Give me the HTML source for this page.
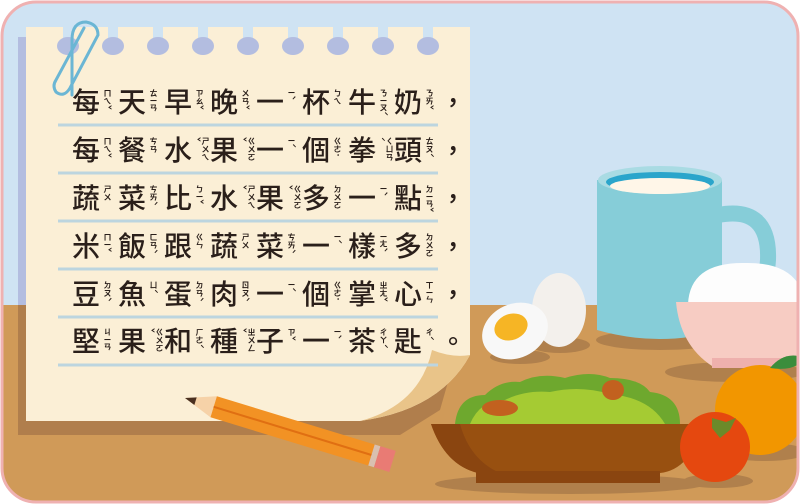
<!DOCTYPE html>
<html><head><meta charset="utf-8">
<style>
html,body{margin:0;padding:0;width:800px;height:504px;overflow:hidden;background:#fff}
#wrap{position:relative;width:800px;height:504px}
svg{position:absolute;left:0;top:0}
.line{position:absolute;left:72px;height:34px;display:flex;align-items:center;font-family:"Liberation Sans","Noto Sans CJK TC",sans-serif;color:#2a1f1a}
.u{width:46px;display:flex;align-items:center;height:34px}
.c{font-size:28px;width:31px;line-height:34px;font-weight:500}
.z{writing-mode:vertical-rl;font-size:8px;line-height:9px;height:28px;font-family:"Noto Sans CJK TC",sans-serif;color:#2a1f1a;font-weight:bold}
.p{font-size:26px}
</style></head><body>
<div id="wrap">
<svg width="800" height="504" viewBox="0 0 800 504">
  <defs><clipPath id="fr"><rect x="2" y="2" width="796" height="500" rx="34"/></clipPath></defs>
  <g clip-path="url(#fr)">
    <rect x="0" y="0" width="800" height="504" fill="#cfe3f3"/>
    <rect x="0" y="305" width="800" height="200" fill="#d09a58"/>
    <g>
      <ellipse cx="660" cy="340" rx="64" ry="10" fill="#b0804c"/>
      <path d="M718 215 q52 -10 50 45 q-2 40 -50 45" fill="none" stroke="#86cdd8" stroke-width="16"/>
      <path d="M597 180 L722 180 L722 330 Q660 348 597 330 Z" fill="#86cdd8"/>
      <ellipse cx="660" cy="180" rx="62" ry="14" fill="#a9dbe3"/>
      <ellipse cx="660" cy="182" rx="54" ry="10" fill="#2aa5cb"/>
      <ellipse cx="660" cy="186" rx="50" ry="8" fill="#fff6e8"/>
    </g>
    <g>
      <ellipse cx="735" cy="372" rx="70" ry="10" fill="#b0804c"/>
      <path d="M688 304 Q690 262 745 263 Q800 262 805 304 Z" fill="#fdfdfd"/>
      <path d="M676 302 L805 302 L805 358 L712 366 Q680 345 676 302 Z" fill="#f7ccc3"/>
      <rect x="712" y="358" width="70" height="10" fill="#eeb0ad"/>
    </g>
    <g>
      <ellipse cx="560" cy="345" rx="30" ry="8" fill="#b0804c"/>
      <ellipse cx="559" cy="310" rx="27" ry="37" fill="#f3f0ec"/>
      <ellipse cx="520" cy="357" rx="30" ry="7" fill="#b0804c"/>
      <ellipse cx="515" cy="331" rx="34" ry="27" transform="rotate(-25 515 331)" fill="#f8f8f8"/>
      <ellipse cx="511" cy="327" rx="17" ry="13" transform="rotate(-20 511 327)" fill="#f6b525"/>
    </g>
    <g>
      <ellipse cx="765" cy="452" rx="42" ry="9" fill="#b0804c"/>
      <circle cx="760" cy="410" r="45" fill="#f29600"/>
      <path d="M770 368 q15 -18 35 -10 q-10 14 -35 10z" fill="#3a8d3c"/>
    </g>
    <g>
      <ellipse cx="570" cy="484" rx="135" ry="10" fill="#b0804c"/>
      <path d="M455 424 Q458 395 485 395 Q500 380 520 382 Q540 372 565 378 Q590 370 610 378 Q640 378 650 392 Q680 395 680 424 Z" fill="#6ea82e"/>
      <path d="M470 424 Q480 400 505 400 Q525 390 550 392 Q580 385 610 394 Q650 398 665 424 Z" fill="#a5cb33"/>
      <ellipse cx="500" cy="408" rx="18" ry="8" fill="#c2611f"/>
      <ellipse cx="613" cy="390" rx="11" ry="10" fill="#c2611f"/>
      <path d="M431 424 L705 424 Q690 470 660 473 L478 473 Q445 465 431 424 Z" fill="#985010"/>
      <path d="M431 424 L460 424 Q470 460 500 473 L478 473 Q445 465 431 424 Z" fill="#8a4510"/>
      <rect x="476" y="471" width="184" height="12" fill="#8a4510"/>
    </g>
    <g>
      <ellipse cx="718" cy="481" rx="35" ry="7" fill="#b0804c"/>
      <circle cx="715" cy="447" r="35" fill="#e5480f"/>
      <path d="M712 418 l14 4 l10 -4 l-6 12 l-10 8 l-8 -10 z" fill="#6b8a2a"/>
    </g>
    <g>
      <rect x="18" y="37" width="20" height="268" fill="#b3bde0"/>
      <path d="M18 305 L18 435 L400 435 L440 410 L470 305 Z" fill="#b07e4c"/>
      <path d="M26 27 L470 27 L470 355 Q440 410 360 421 L26 421 Z" fill="#fbefd6"/>
      <path d="M470 355 Q440 410 360 421 Q420 405 432 350 Q452 358 470 355 Z" fill="#e9c489"/>
      <g id="holes"></g>
      <g id="rules"></g>
      <path d="M72 95 L72 40 Q72 22 86 22 Q98 24 98 35 L70 88 Q64 98 56 92 Q52 86 56 80 L84 28" fill="none" stroke="#6bb6d4" stroke-width="3" stroke-linecap="round"/>
    </g>
    <g transform="rotate(17 185 398)">
      <polygon points="185,398 215,387 215,409" fill="#f6d2a8"/>
      <polygon points="185,398 196,394 196,402" fill="#4a3020"/>
      <rect x="215" y="387" width="165" height="22" fill="#f29224"/>
      <rect x="215" y="397" width="165" height="2" fill="#e06f12"/>
      <rect x="380" y="387" width="6" height="22" fill="#d9c0b0"/>
      <rect x="386" y="387" width="16" height="22" fill="#e97b74"/>
    </g>
  </g>
  <rect x="2" y="2" width="796" height="500" rx="34" fill="none" stroke="#efb1b1" stroke-width="3"/>
</svg>
<div id="text"></div>
</div>
<script>
const holeXs=[68,113,158,203,248,293,338,383,428];
const ruleYs=[125,173,221,269,317,365];
const ns="http://www.w3.org/2000/svg";
const hg=document.getElementById('holes');
holeXs.forEach(x=>{
  const s=document.createElementNS(ns,'rect');
  s.setAttribute('x',x-5);s.setAttribute('y',27);s.setAttribute('width',10);s.setAttribute('height',16);s.setAttribute('fill','#cfe3f3');
  
  
  hg.appendChild(s);
  const e=document.createElementNS(ns,'ellipse');
  e.setAttribute('cx',x);e.setAttribute('cy',46);e.setAttribute('rx',11);e.setAttribute('ry',9);e.setAttribute('fill','#b3bde0');
  
  
  hg.appendChild(e);
});
const rg=document.getElementById('rules');
ruleYs.forEach(y=>{
  const r=document.createElementNS(ns,'rect');
  r.setAttribute('x',58);r.setAttribute('y',y-1.5);r.setAttribute('width',380);r.setAttribute('height',3);r.setAttribute('fill','#bcd5df');
  
  
  rg.appendChild(r);
});
const lines=[
 [["每","ㄇㄟˇ"],["天","ㄊㄧㄢ"],["早","ㄗㄠˇ"],["晚","ㄨㄢˇ"],["一","ㄧˋ"],["杯","ㄅㄟ"],["牛","ㄋㄧㄡˊ"],["奶","ㄋㄞˇ"],["，",""]],
 [["每","ㄇㄟˇ"],["餐","ㄘㄢ"],["水","ㄕㄨㄟˇ"],["果","ㄍㄨㄛˇ"],["一","ㄧˊ"],["個","ㄍㄜ˙"],["拳","ㄑㄩㄢˊ"],["頭","ㄊㄡˊ"],["，",""]],
 [["蔬","ㄕㄨ"],["菜","ㄘㄞˋ"],["比","ㄅㄧˇ"],["水","ㄕㄨㄟˇ"],["果","ㄍㄨㄛˇ"],["多","ㄉㄨㄛ"],["一","ㄧˋ"],["點","ㄉㄧㄢˇ"],["，",""]],
 [["米","ㄇㄧˇ"],["飯","ㄈㄢˋ"],["跟","ㄍㄣ"],["蔬","ㄕㄨ"],["菜","ㄘㄞˋ"],["一","ㄧˊ"],["樣","ㄧㄤˋ"],["多","ㄉㄨㄛ"],["，",""]],
 [["豆","ㄉㄡˋ"],["魚","ㄩˊ"],["蛋","ㄉㄢˋ"],["肉","ㄖㄡˋ"],["一","ㄧˊ"],["個","ㄍㄜ˙"],["掌","ㄓㄤˇ"],["心","ㄒㄧㄣ"],["，",""]],
 [["堅","ㄐㄧㄢ"],["果","ㄍㄨㄛˇ"],["和","ㄏㄜˊ"],["種","ㄓㄨㄥˇ"],["子","ㄗˇ"],["一","ㄧˋ"],["茶","ㄔㄚˊ"],["匙","ㄔˊ"],["。",""]]
];
const lineYs=[86,134,182,230,278,325];
const t=document.getElementById('text');
lines.forEach((ln,i)=>{
  const d=document.createElement('div');
  d.className='line';d.style.top=lineYs[i]+'px';
  
  
  ln.forEach(([c,z])=>{
    const u=document.createElement('span');u.className='u';
    const cs=document.createElement('span');cs.className='c'+(z?'':' p');cs.textContent=c;
    u.appendChild(cs);
    if(z){const zs=document.createElement('span');zs.className='z';zs.textContent=z;u.appendChild(zs);}
    d.appendChild(u);
  });
  t.appendChild(d);
});
</script>
</body></html>
